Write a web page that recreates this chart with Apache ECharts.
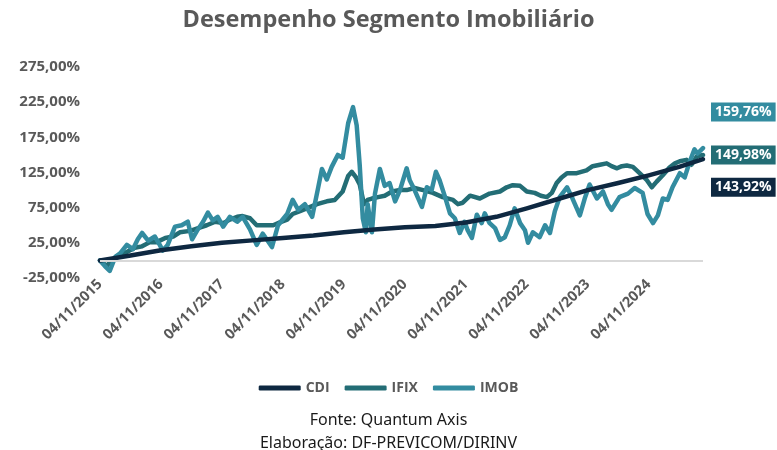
<!DOCTYPE html>
<html>
<head>
<meta charset="utf-8">
<script src="https://cdn.jsdelivr.net/npm/echarts@6/dist/echarts.min.js"></script>
<style>
  html, body { margin: 0; padding: 0; background: #fff; }
  #chart { width: 777px; height: 450px; }
</style>
</head>
<body>
<div id="chart"></div>
<script>
// eixo x: anos desde 04/11/2015
const xLabels = ["04/11/2015", "04/11/2016", "04/11/2017", "04/11/2018", "04/11/2019",
  "04/11/2020", "04/11/2021", "04/11/2022", "04/11/2023", "04/11/2024"];
const yLabels = ["-25,00%", "25,00%", "75,00%", "125,00%", "175,00%", "225,00%", "275,00%"];
const endLabels = { CDI: "143,92%", IFIX: "149,98%", IMOB: "159,76%" };

const cdiYears = [0, 0.5, 1, 1.5, 2, 2.5, 3, 3.5, 4, 4.5, 5, 5.5, 6, 6.5, 7, 7.5, 8, 8.5, 9, 9.5, 9.89];
const cdiValues = [0, 7, 14.5, 20, 25, 28.5, 32, 35.5, 40, 44, 47, 49, 54, 62, 74, 87, 100, 110, 121, 133, 143.92];

const ifixYears = [0, 0.11, 0.21, 0.33, 0.44, 0.57, 0.69, 0.82, 0.93, 1.07, 1.2, 1.31, 1.48, 1.61, 1.75, 1.89,
  2.02, 2.13, 2.25, 2.34, 2.46, 2.57, 2.7, 2.84, 2.95, 3.07, 3.16, 3.28, 3.39, 3.56, 3.72, 3.85, 3.98,
  4.07, 4.13, 4.2, 4.26, 4.33, 4.39, 4.46, 4.56, 4.67, 4.79, 4.92, 5.03, 5.16, 5.3, 5.46, 5.62, 5.79,
  5.87, 5.95, 6.07, 6.23, 6.39, 6.56, 6.67, 6.77, 6.89, 7.0, 7.13, 7.23, 7.33, 7.41, 7.49, 7.57, 7.66,
  7.82, 7.98, 8.08, 8.2, 8.31, 8.39, 8.48, 8.56, 8.64, 8.74, 8.85, 8.97, 9.05, 9.13, 9.23, 9.34, 9.43,
  9.51, 9.62, 9.7, 9.79, 9.89];
const ifixValues = [0, -8, 2, 6, 12, 18, 20, 26, 26, 32, 34, 40, 42, 46, 50, 55,
  53, 58, 62, 63, 60, 50, 50, 50, 54, 58, 66, 70, 74, 80, 84, 86, 98,
  120, 126, 118, 108, 80, 86, 88, 90, 92, 98, 100, 100, 103, 100, 96, 90, 86,
  80, 82, 92, 88, 95, 98, 104, 107, 106, 98, 96, 92, 90, 96, 110, 118, 124,
  124, 128, 134, 136, 138, 134, 131, 134, 135, 133, 124, 114, 104, 112, 121, 132, 138,
  141, 143, 136, 148, 149.98];

const imobYears = [0, 0.08, 0.16, 0.25, 0.33, 0.44, 0.54, 0.62, 0.69, 0.79, 0.9, 0.98, 1.03, 1.11, 1.23,
  1.34, 1.44, 1.51, 1.59, 1.69, 1.77, 1.85, 1.93, 2.02, 2.13, 2.25, 2.34, 2.46, 2.57, 2.67, 2.75, 2.82,
  2.92, 3.07, 3.16, 3.25, 3.36, 3.48, 3.57, 3.64, 3.72, 3.8, 3.9, 3.98, 4.07, 4.15, 4.21, 4.26, 4.31,
  4.36, 4.39, 4.46, 4.51, 4.59, 4.67, 4.75, 4.84, 4.92, 5.03, 5.08, 5.16, 5.28, 5.36, 5.44, 5.51, 5.57,
  5.66, 5.74, 5.82, 5.9, 5.98, 6.03, 6.1, 6.18, 6.26, 6.31, 6.39, 6.48, 6.56, 6.64, 6.72, 6.8, 6.89,
  6.97, 7.02, 7.1, 7.21, 7.3, 7.38, 7.46, 7.54, 7.66, 7.75, 7.87, 7.95, 8.03, 8.15, 8.25, 8.33, 8.39,
  8.52, 8.66, 8.77, 8.9, 8.98, 9.07, 9.15, 9.23, 9.31, 9.39, 9.51, 9.59, 9.67, 9.75, 9.8, 9.89];
const imobValues = [0, -8, -15, 5, 10, 22, 16, 30, 39, 28, 34, 22, 14, 22, 48,
  50, 55, 30, 42, 55, 68, 57, 62, 48, 62, 55, 62, 44, 22, 38, 28, 19,
  50, 66, 86, 72, 80, 62, 100, 130, 115, 133, 150, 146, 195, 218, 192, 135, 60,
  40, 80, 40, 95, 130, 106, 110, 84, 100, 131, 114, 100, 76, 104, 100, 126, 114,
  90, 67, 60, 39, 55, 43, 32, 65, 53, 67, 53, 46, 29, 33, 50, 74, 53,
  43, 25, 40, 33, 50, 39, 70, 90, 104, 88, 64, 88, 108, 88, 98, 80, 72,
  90, 95, 103, 96, 66, 53, 64, 88, 86, 104, 124, 118, 140, 158, 152, 159.76];

const colors = { CDI: "#0e2841", IFIX: "#236d75", IMOB: "#338ca0" };

const zip = (xs, ys) => xs.map((x, i) => [x, ys[i]]);

const lineSeries = (name, xs, ys, dy, z) => ({
  name,
  type: "line",
  data: zip(xs, ys),
  symbol: "none",
  z,
  lineStyle: { width: 4.5, color: colors[name], join: "round", cap: "round" },
  itemStyle: { color: colors[name] },
  endLabel: {
    show: true,
    formatter: () => endLabels[name],
    distance: 8,
    offset: [0, dy],
    color: "#fff",
    fontFamily: "Open Sans",
    fontWeight: "bold",
    fontSize: 14,
    backgroundColor: colors[name],
    padding: [3, 4, 2, 4]
  }
});

const myChart = echarts.init(document.getElementById("chart"));

const option = {
  animation: false,
  title: {
    text: "Desempenho Segmento Imobiliário",
    left: "center",
    top: 3,
    textStyle: { fontFamily: "Open Sans", fontSize: 23.5, fontWeight: "bold", color: "#595959" }
  },
  legend: {
    data: ["CDI", "IFIX", "IMOB"],
    left: "center",
    top: 376,
    icon: "roundRect",
    itemWidth: 42,
    itemHeight: 5,
    itemGap: 15,
    textStyle: { fontFamily: "Open Sans", fontSize: 14, fontWeight: "bold", color: "#595959" }
  },
  grid: { left: 100, right: 74, top: 67, bottom: 172, containLabel: false },
  xAxis: {
    type: "value",
    min: 0,
    max: 9.89,
    interval: 1,
    axisLine: { show: false },
    axisTick: { show: false },
    splitLine: { show: false },
    axisLabel: {
      rotate: 45,
      margin: 4,
      showMaxLabel: false,
      fontFamily: "Open Sans",
      fontSize: 14.5,
      fontWeight: "bold",
      color: "#595959",
      formatter: (v) => xLabels[Math.round(v)] || ""
    }
  },
  yAxis: {
    type: "value",
    min: -25,
    max: 275,
    interval: 25,
    axisLine: { show: false },
    axisTick: { show: false },
    splitLine: { show: false },
    axisLabel: {
      margin: 20,
      fontFamily: "Open Sans",
      fontSize: 15,
      fontWeight: "bold",
      color: "#595959",
      formatter: (v) => ((v + 25) % 50 === 0 ? yLabels[(v + 25) / 50] : "")
    }
  },
  graphic: [
    {
      type: "text",
      left: "center",
      top: 412,
      style: { text: "Fonte: Quantum Axis", fontFamily: "Noto Sans", fontSize: 16, fill: "#1a1a1a" }
    },
    {
      type: "text",
      left: "center",
      top: 435,
      style: { text: "Elaboração: DF-PREVICOM/DIRINV", fontFamily: "Noto Sans", fontSize: 16, fill: "#1a1a1a" }
    }
  ],
  series: [
    {
      name: "zero",
      type: "line",
      data: [],
      z: 1,
      silent: true,
      markLine: {
        silent: true,
        symbol: "none",
        label: { show: false },
        lineStyle: { color: "#d9d9d9", width: 2, type: "solid" },
        data: [{ yAxis: 0 }]
      }
    },
    lineSeries("CDI", cdiYears, cdiValues, 28, 4),
    lineSeries("IFIX", ifixYears, ifixValues, 0, 2),
    lineSeries("IMOB", imobYears, imobValues, -36, 3)
  ]
};

myChart.setOption(option);
</script>
</body>
</html>
